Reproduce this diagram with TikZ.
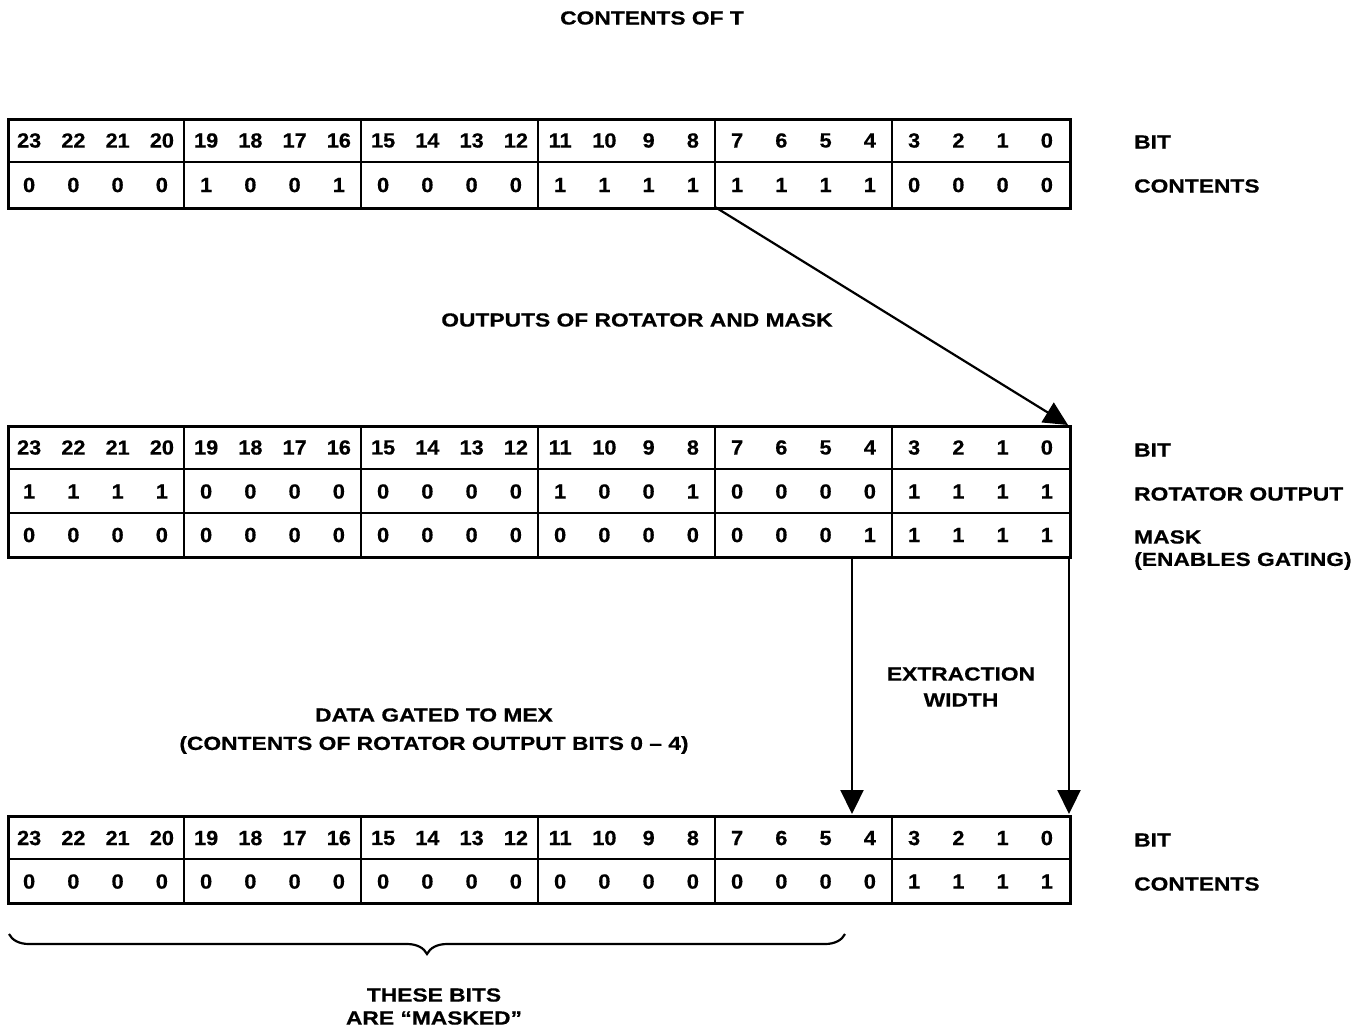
\documentclass[tikz,border=0pt]{standalone}
\usepackage{fontspec}
\setmainfont{Liberation Sans}[FakeStretch=1.2,FakeBold=0.5]
\newfontfamily\digfont{Liberation Sans}[FakeStretch=1.06,FakeBold=0.5]
\usetikzlibrary{arrows.meta,decorations.pathreplacing}
\begin{document}
\begin{tikzpicture}[x=1pt,y=-1pt,
  txt/.style={font=\fontsize{19}{22}\selectfont\bfseries, inner sep=0pt},
  dig/.style={font=\digfont\fontsize{20.5}{22}\selectfont\bfseries, inner sep=0pt},
  lbl/.style={txt, anchor=west},
  frame/.style={draw, line width=2.5pt, inner sep=0pt, anchor=north west, minimum width=1062pt},
  rule/.style={line width=2pt},
  arr/.style={line width=2.2pt, -{Triangle[length=24pt,width=23pt]}},
  brc/.style={line width=2.2pt, decorate, decoration={brace, mirror, amplitude=20pt}}
]
\useasboundingbox (0,0) rectangle (1364,1031);

% ---------- title
\node[txt] (title) at (652,18) {CONTENTS OF T};

% ---------- table 1
\node[frame, minimum height=89pt] (T1) at (7,118) {};
\draw[rule] (7,162) -- (1069,162);
\foreach \g in {1,...,5} \draw[rule] ({7+177*\g},118) -- ({7+177*\g},207);
\foreach \k in {0,...,23} {
  \pgfmathtruncatemacro\b{23-\k}
  \node[dig] (t1b\k) at ({7+44.25*(\k+0.5)},140.5) {\b};
}
\foreach \v [count=\k from 0] in {0,0,0,0,1,0,0,1,0,0,0,0,1,1,1,1,1,1,1,1,0,0,0,0}
  \node[dig] (t1c\k) at ({7+44.25*(\k+0.5)},185) {\v};
\node[lbl] (l1a) at (1134,142) {BIT};
\node[lbl] (l1b) at (1134,186) {CONTENTS};

% ---------- middle label
\node[txt] (outlbl) at (637,320) {OUTPUTS OF ROTATOR AND MASK};

% ---------- table 2
\node[frame, minimum height=131pt] (T2) at (7,425) {};
\draw[rule] (7,469) -- (1069,469);
\draw[rule] (7,513) -- (1069,513);
\foreach \g in {1,...,5} \draw[rule] ({7+177*\g},425) -- ({7+177*\g},556);
\foreach \k in {0,...,23} {
  \pgfmathtruncatemacro\b{23-\k}
  \node[dig] (t2b\k) at ({7+44.25*(\k+0.5)},447.5) {\b};
}
\foreach \v [count=\k from 0] in {1,1,1,1,0,0,0,0,0,0,0,0,1,0,0,1,0,0,0,0,1,1,1,1}
  \node[dig] (t2r\k) at ({7+44.25*(\k+0.5)},491.5) {\v};
\foreach \v [count=\k from 0] in {0,0,0,0,0,0,0,0,0,0,0,0,0,0,0,0,0,0,0,1,1,1,1,1}
  \node[dig] (t2m\k) at ({7+44.25*(\k+0.5)},535) {\v};
\node[lbl] (l2a) at (1134,450) {BIT};
\node[lbl] (l2b) at (1134,494) {ROTATOR OUTPUT};
\node[lbl] (l2c) at (1134,537) {MASK};
\node[lbl] (l2d) at (1134,561) {(ENABLES GATING)};

% ---------- labels between tables 2 and 3
\node[txt] (ext1) at (961,674) {EXTRACTION};
\node[txt] (ext2) at (961,700) {WIDTH};
\node[txt] (dg1) at (434,715) {DATA GATED TO MEX};
\node[txt] (dg2) at (434,745) {(CONTENTS OF ROTATOR OUTPUT BITS 0 – 4)};

% ---------- table 3
\node[frame, minimum height=87pt] (T3) at (7,815) {};
\draw[rule] (7,859) -- (1069,859);
\foreach \g in {1,...,5} \draw[rule] ({7+177*\g},815) -- ({7+177*\g},902);
\foreach \k in {0,...,23} {
  \pgfmathtruncatemacro\b{23-\k}
  \node[dig] (t3b\k) at ({7+44.25*(\k+0.5)},838) {\b};
}
\foreach \v [count=\k from 0] in {0,0,0,0,0,0,0,0,0,0,0,0,0,0,0,0,0,0,0,0,1,1,1,1}
  \node[dig] (t3c\k) at ({7+44.25*(\k+0.5)},881.5) {\v};
\node[lbl] (l3a) at (1134,840) {BIT};
\node[lbl] (l3b) at (1134,884) {CONTENTS};

% ---------- connectors
\coordinate (s1) at (715,207);
\coordinate (e1) at (1068,425);
\coordinate (s2) at (852,556);
\coordinate (e2) at (852,814);
\coordinate (s3) at (1069,556);
\coordinate (e3) at (1069,814);
\draw[arr] (s1) -- (e1);
\draw[arr] (s2) -- (e2);
\draw[arr] (s3) -- (e3);

% ---------- brace
\coordinate (b1) at (9,934);
\coordinate (b2) at (845,934);
\draw[brc] (b1) -- (b2);
\node[txt] (m1) at (434,995) {THESE BITS};
\node[txt] (m2) at (434,1018) {ARE ``MASKED''};
\end{tikzpicture}
\end{document}
